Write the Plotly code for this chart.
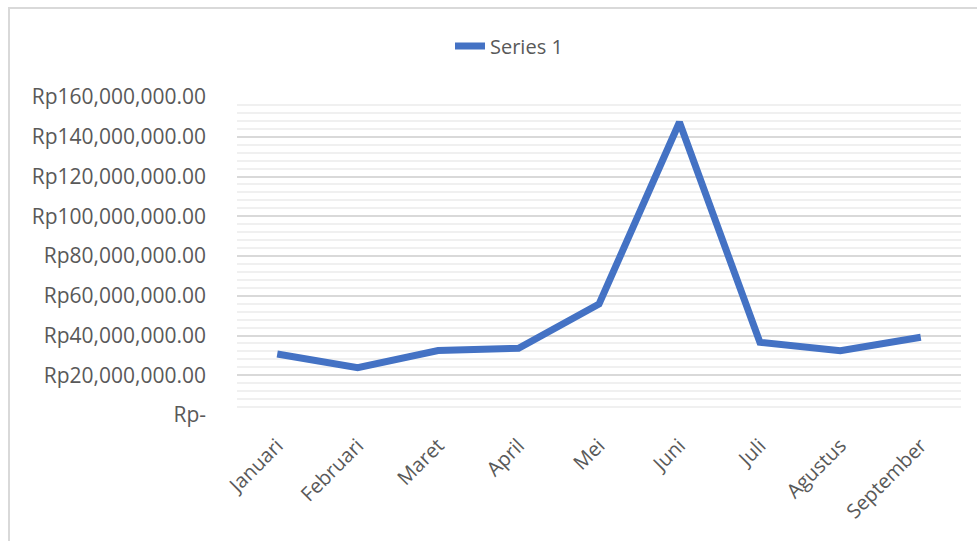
import plotly.graph_objects as go

months = ["Januari", "Februari", "Maret", "April", "Mei", "Juni", "Juli", "Agustus", "September"]
values = [30_700_000, 23_800_000, 32_400_000, 33_600_000, 55_800_000, 147_300_000, 36_600_000, 32_400_000, 39_100_000]
series_name = "Series 1"
tick_vals = [0, 20e6, 40e6, 60e6, 80e6, 100e6, 120e6, 140e6, 160e6]
tick_text = ["Rp-", "Rp20,000,000.00", "Rp40,000,000.00", "Rp60,000,000.00", "Rp80,000,000.00",
             "Rp100,000,000.00", "Rp120,000,000.00", "Rp140,000,000.00", "Rp160,000,000.00"]

W, H = 977, 541
L, R, T, B = 237, 16, 97, 126
pw, ph = W - L - R, H - T - B

def px(x):
    return (x - L) / pw

def py(y):
    return (H - B - y) / ph

fig = go.Figure()
fig.add_trace(go.Scatter(
    x=months, y=values, mode="lines", name=series_name,
    line=dict(color="#4472C4", width=7),
))

font_family = "Open Sans"
fig.update_layout(
    width=W, height=H,
    margin=dict(l=L, r=R, t=T, b=B, pad=0),
    paper_bgcolor="white", plot_bgcolor="white",
    font=dict(family=font_family, color="#595959", size=20),
    showlegend=True,
    legend=dict(orientation="h", x=px(450), xanchor="left", y=py(46), yanchor="middle",
                font=dict(size=20, color="#595959"), bgcolor="rgba(0,0,0,0)"),
    xaxis=dict(
        type="category", showgrid=False, showline=False, zeroline=False,
        tickangle=-45, ticks="", tickfont=dict(size=20, color="#595959"),
        range=[-0.5, len(months) - 0.5], ticklabelstandoff=14,
    ),
    yaxis=dict(
        range=[0, 160e6], tickvals=tick_vals, ticktext=tick_text,
        showgrid=True, gridcolor="#d9d9d9", gridwidth=2,
        zeroline=False, showline=False, ticks="",
        tickfont=dict(size=21, color="#595959"), ticklabelstandoff=30,
        minor=dict(dtick=4e6, tick0=0, showgrid=True, gridcolor="#f0f0f0", gridwidth=2),
    ),
    shapes=[dict(type="rect", xref="paper", yref="paper",
                 x0=px(9), x1=px(W + 20), y0=py(H + 20), y1=py(8),
                 line=dict(color="#d9d9d9", width=2), fillcolor="rgba(0,0,0,0)", layer="below")],
)

fig.write_html("out.html")
